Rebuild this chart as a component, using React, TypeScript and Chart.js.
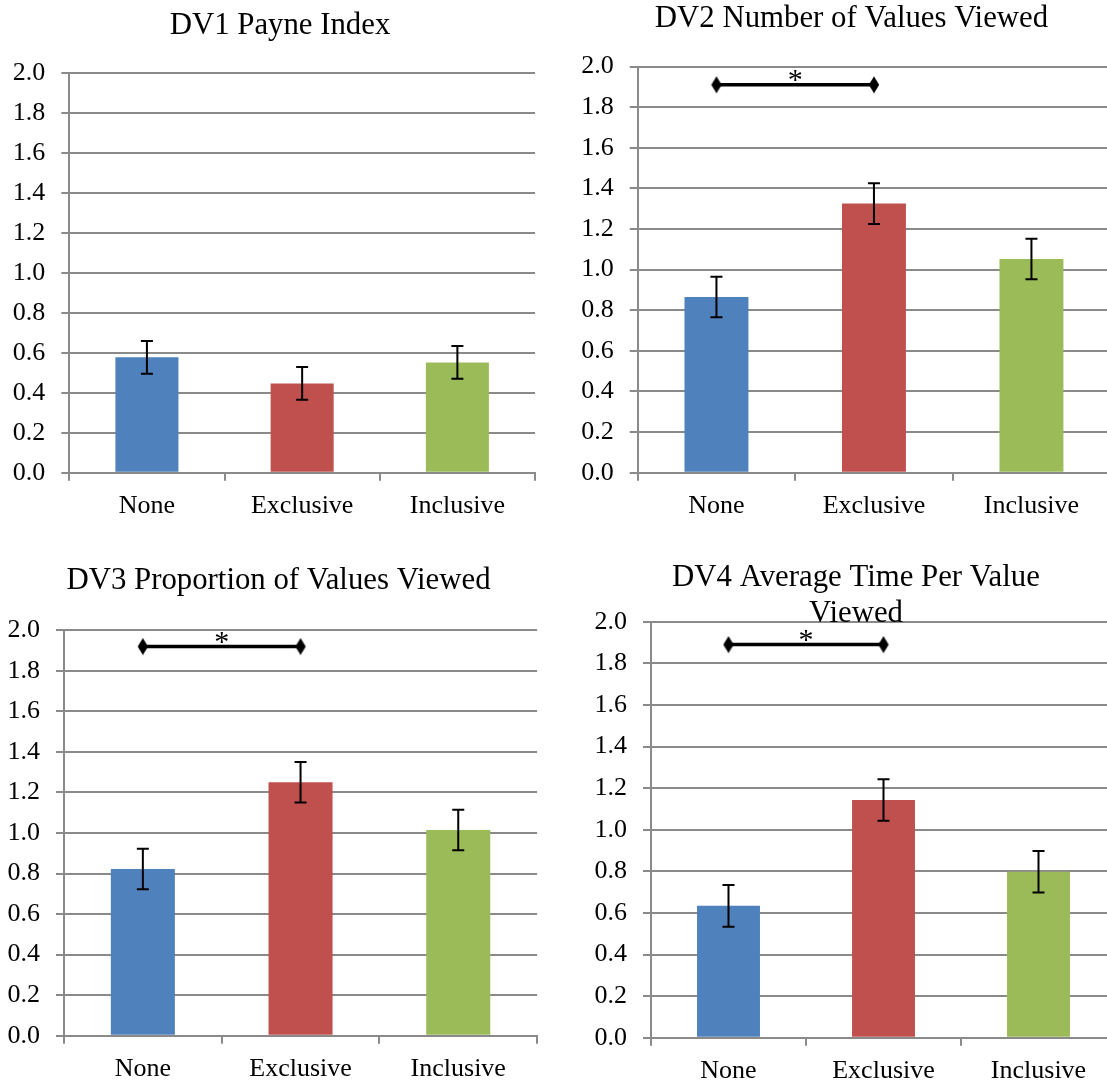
import React, { useEffect, useRef } from 'react';
import { Chart, registerables } from 'chart.js';

Chart.register(...registerables);

// ---- data ----
const categories = ['None', 'Exclusive', 'Inclusive'];

const dv1Means = [0.578, 0.447, 0.552];
const dv1Errors = [0.082, 0.082, 0.082];

const dv2Means = [0.865, 1.325, 1.052];
const dv2Errors = [0.1, 0.1, 0.1];
const dv2Bracket = [1.91, 1.91, null];

const dv3Means = [0.822, 1.25, 1.015];
const dv3Errors = [0.1, 0.1, 0.1];
const dv3Bracket = [1.92, 1.92, null];

const dv4Means = [0.634, 1.143, 0.798];
const dv4Errors = [0.1, 0.1, 0.1];
const dv4Bracket = [1.89, 1.89, null];

const yMin = 0;
const yMax = 2;
const yStep = 0.2;

const dv1Title = ['DV1 Payne Index'];
const dv2Title = ['DV2 Number of Values Viewed'];
const dv3Title = ['DV3 Proportion of Values Viewed'];
const dv4Title = ['DV4 Average Time Per Value', 'Viewed'];

// ---- styling ----
const barColors = ['#4F81BD', '#C0504D', '#9BBB59'];
const GRID = '#8a8a8a';
const FONT = '"Liberation Serif", "Times New Roman", Times, serif';
const X_AXIS_HEIGHT = 45;

type Box = { left: number; top: number; width: number; height: number };
type Area = { left: number; top: number; right: number; bottom: number };
type PanelSpec = {
  title: string[];
  means: number[];
  errors: number[];
  bracket: (number | null)[] | null;
  box: Box;
  area: Area;
  titleX: number;
  titleBaselines: number[];
};

const panels: PanelSpec[] = [
  {
    title: dv1Title, means: dv1Means, errors: dv1Errors, bracket: null,
    box: { left: 0, top: 0, width: 560, height: 545 },
    area: { left: 69.3, top: 73.3, right: 535, bottom: 472.7 },
    titleX: 280, titleBaselines: [34],
  },
  {
    title: dv2Title, means: dv2Means, errors: dv2Errors, bracket: dv2Bracket,
    box: { left: 560, top: 0, width: 560, height: 545 },
    area: { left: 637.7, top: 66.5, right: 1110.2, bottom: 472.7 },
    titleX: 851.5, titleBaselines: [26.5],
  },
  {
    title: dv3Title, means: dv3Means, errors: dv3Errors, bracket: dv3Bracket,
    box: { left: 0, top: 545, width: 560, height: 541 },
    area: { left: 64, top: 630.3, right: 537.1, bottom: 1035.7 },
    titleX: 278.5, titleBaselines: [588.5],
  },
  {
    title: dv4Title, means: dv4Means, errors: dv4Errors, bracket: dv4Bracket,
    box: { left: 560, top: 545, width: 560, height: 541 },
    area: { left: 651, top: 621.7, right: 1116, bottom: 1037.7 },
    titleX: 856, titleBaselines: [586.3, 622],
  },
];

// Tall black diamond used as the marker at each end of a significance bracket
function makeDiamond(): HTMLCanvasElement {
  const c = document.createElement('canvas');
  c.width = 12;
  c.height = 18;
  const g = c.getContext('2d')!;
  g.fillStyle = '#000';
  g.beginPath();
  g.moveTo(6, 0.5);
  g.lineTo(11.2, 9);
  g.lineTo(6, 17.5);
  g.lineTo(0.8, 9);
  g.closePath();
  g.fill();
  return c;
}

// Draws error bars, the significance asterisk and the panel title
const panelDecor = {
  id: 'panelDecor',
  afterDatasetsDraw(chart: any, _args: any, opts: any) {
    const ctx: CanvasRenderingContext2D = chart.ctx;
    const yScale = chart.scales.y;
    const values: number[] = chart.data.datasets[0].data;
    const errors: number[] = opts.errors || [];
    const barMeta = chart.getDatasetMeta(0);
    const cap = 6;
    ctx.save();
    ctx.strokeStyle = '#000';
    ctx.lineWidth = 2;
    barMeta.data.forEach((bar: any, i: number) => {
      const v = values[i];
      const e = errors[i];
      if (v == null || e == null) return;
      const top = yScale.getPixelForValue(v + e);
      const bot = yScale.getPixelForValue(v - e);
      const x = bar.x;
      ctx.beginPath();
      ctx.moveTo(x, top);
      ctx.lineTo(x, bot);
      ctx.moveTo(x - cap, top);
      ctx.lineTo(x + cap, top);
      ctx.moveTo(x - cap, bot);
      ctx.lineTo(x + cap, bot);
      ctx.stroke();
    });
    if (chart.data.datasets.length > 1) {
      const lineMeta = chart.getDatasetMeta(1);
      const p0 = lineMeta.data[0];
      const p1 = lineMeta.data[1];
      if (p0 && p1) {
        ctx.fillStyle = '#000';
        ctx.font = `30px ${FONT}`;
        ctx.textAlign = 'center';
        ctx.textBaseline = 'alphabetic';
        ctx.fillText('*', (p0.x + p1.x) / 2, p0.y + 4);
      }
    }
    ctx.restore();
  },
  afterDraw(chart: any, _args: any, opts: any) {
    const ctx: CanvasRenderingContext2D = chart.ctx;
    const lines: string[] = opts.lines || [];
    const baselines: number[] = opts.baselines || [];
    ctx.save();
    ctx.fillStyle = '#000';
    ctx.font = `30.8px ${FONT}`;
    ctx.textAlign = 'center';
    ctx.textBaseline = 'alphabetic';
    lines.forEach((line, i) => ctx.fillText(line, opts.x, baselines[i]));
    ctx.restore();
  },
};

function Panel({ spec }: { spec: PanelSpec }) {
  const ref = useRef<HTMLCanvasElement | null>(null);

  useEffect(() => {
    const canvas = ref.current;
    if (!canvas) return;
    const { box, area } = spec;
    const yAxisWidth = area.left - box.left;
    const padTop = area.top - box.top;
    const padRight = box.left + box.width - area.right;
    const padBottom = box.top + box.height - area.bottom - X_AXIS_HEIGHT;

    const datasets: any[] = [
      {
        type: 'bar',
        data: spec.means,
        backgroundColor: barColors,
        borderWidth: 0,
        barPercentage: 0.406,
        categoryPercentage: 1,
        order: 1,
      },
    ];
    if (spec.bracket) {
      datasets.push({
        type: 'line',
        data: spec.bracket,
        borderColor: '#000',
        borderWidth: 3.5,
        pointStyle: makeDiamond(),
        pointRadius: 5,
        pointBackgroundColor: '#000',
        pointBorderWidth: 0,
        tension: 0,
        fill: false,
        order: 0,
      });
    }

    const chart = new Chart(canvas, {
      type: 'bar',
      data: { labels: categories, datasets },
      options: {
        responsive: false,
        animation: false,
        devicePixelRatio: 1,
        layout: {
          autoPadding: false,
          padding: { left: 0, top: padTop, right: padRight, bottom: padBottom },
        },
        plugins: {
          legend: { display: false },
          tooltip: { enabled: false },
          title: { display: false },
          panelDecor: {
            errors: spec.errors,
            lines: spec.title,
            baselines: spec.titleBaselines.map((b) => b - box.top),
            x: spec.titleX - box.left,
          },
        } as any,
        scales: {
          x: {
            type: 'category',
            offset: true,
            ticks: {
              color: '#000',
              font: { family: FONT, size: 26 },
              padding: 10,
              maxRotation: 0,
              autoSkip: false,
            },
            grid: {
              display: true,
              drawOnChartArea: false,
              drawTicks: true,
              tickLength: 8,
              offset: true,
              color: GRID,
              lineWidth: 2,
            },
            border: { display: true, color: GRID, width: 2 },
            afterFit: (s: any) => {
              s.height = X_AXIS_HEIGHT;
            },
          },
          y: {
            type: 'linear',
            min: yMin,
            max: yMax,
            ticks: {
              stepSize: yStep,
              color: '#000',
              font: { family: FONT, size: 26 },
              padding: 16,
              callback: (v: any) => Number(v).toFixed(1),
            },
            grid: {
              color: GRID,
              lineWidth: 2,
              drawTicks: true,
              tickLength: 8,
            },
            border: { display: true, color: GRID, width: 2 },
            afterFit: (s: any) => {
              s.width = yAxisWidth;
            },
          },
        } as any,
      },
      plugins: [panelDecor as any],
    });

    return () => chart.destroy();
  }, [spec]);

  return (
    <canvas
      ref={ref}
      width={spec.box.width}
      height={spec.box.height}
      style={{
        position: 'absolute',
        left: spec.box.left,
        top: spec.box.top,
        width: spec.box.width,
        height: spec.box.height,
      }}
    />
  );
}

export default function App() {
  return (
    <div
      style={{
        position: 'absolute',
        left: 0,
        top: 0,
        width: 1107,
        height: 1086,
        overflow: 'hidden',
        background: '#fff',
      }}
    >
      {panels.map((p, i) => (
        <Panel key={i} spec={p} />
      ))}
    </div>
  );
}
